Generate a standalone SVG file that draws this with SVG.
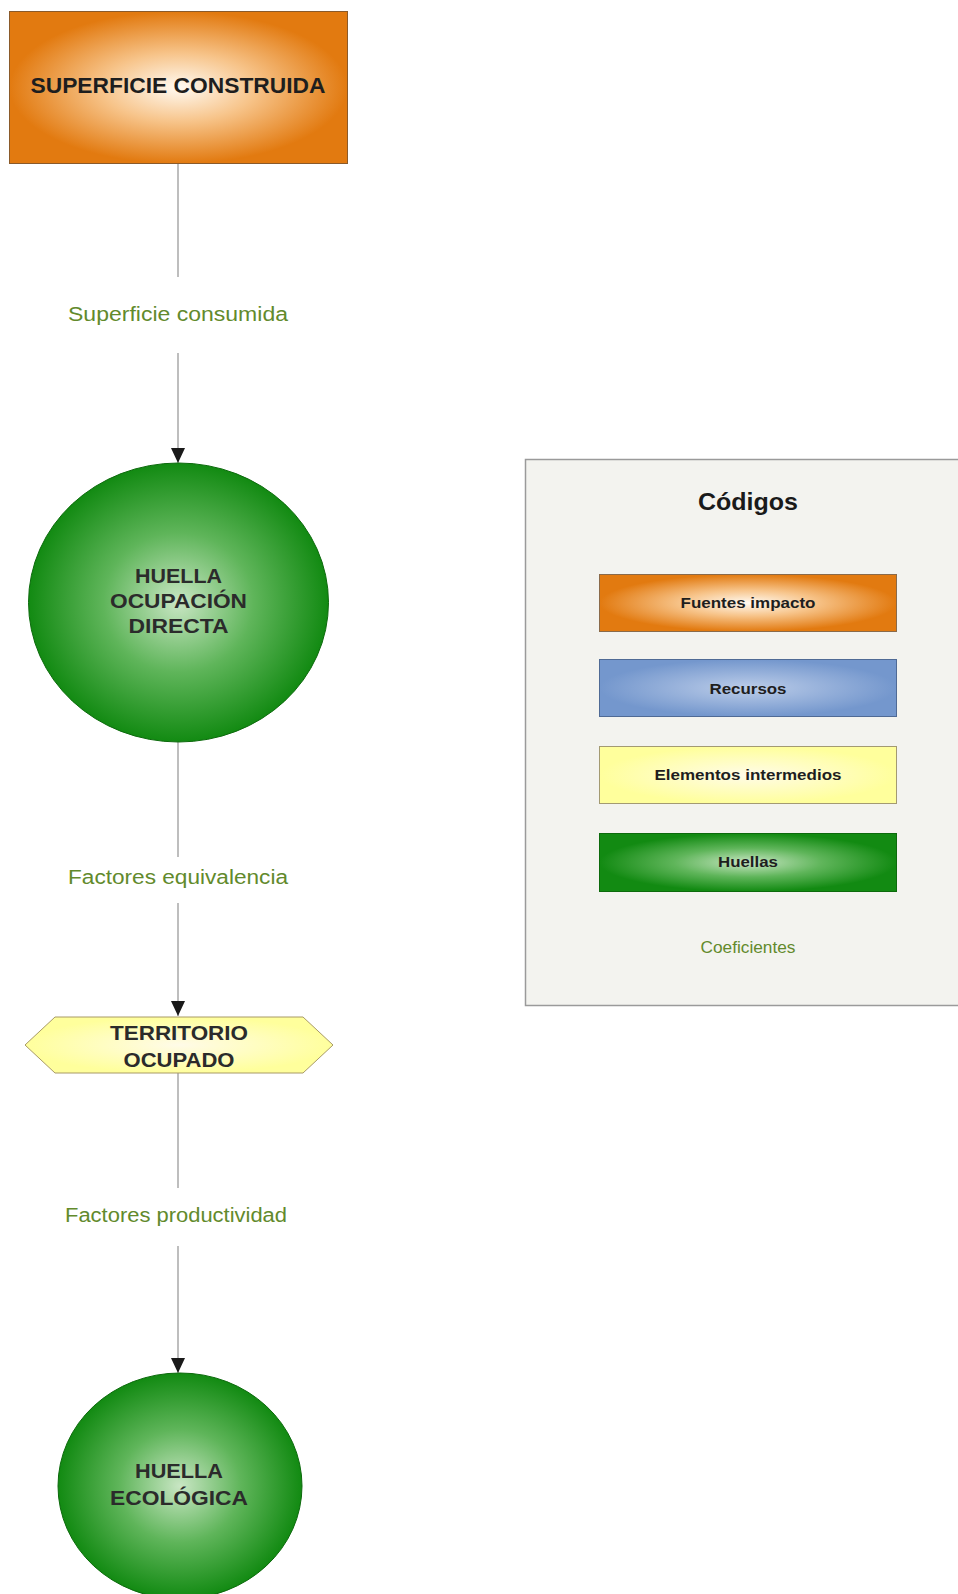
<svg xmlns="http://www.w3.org/2000/svg" width="958" height="1594" viewBox="0 0 958 1594">
<style>
.node{font-family:"Liberation Sans",Arial,sans-serif;font-weight:bold;fill:#1e1e1e;text-anchor:middle}
.ntxt{font-size:20px;fill:#2b2b2b}
.lbl{font-family:"Liberation Sans",Arial,sans-serif;font-size:20px;fill:#628a2c;text-anchor:middle}
.leg{font-family:"Liberation Sans",Arial,sans-serif;font-weight:bold;font-size:15px;fill:#1e1e1e;text-anchor:middle}
.conn line{stroke:#a8a8a8;stroke-width:1.5}
</style>
<defs>
<radialGradient id="gOrange" cx="50%" cy="50%" r="50%">
<stop offset="0" stop-color="#fffaf2"/>
<stop offset="0.45" stop-color="#f7c48a"/>
<stop offset="1" stop-color="#e27a10"/>
</radialGradient>
<radialGradient id="gGreen" cx="50%" cy="50%" r="50%">
<stop offset="0" stop-color="#c9e6c4"/>
<stop offset="0.5" stop-color="#5fb55a"/>
<stop offset="1" stop-color="#128a12"/>
</radialGradient>
<radialGradient id="gYellow" cx="50%" cy="50%" r="50%">
<stop offset="0" stop-color="#fffbe8"/>
<stop offset="1" stop-color="#ffff9c"/>
</radialGradient>
<radialGradient id="gBlue" cx="50%" cy="50%" r="50%">
<stop offset="0" stop-color="#bccde9"/>
<stop offset="1" stop-color="#7497cd"/>
</radialGradient>
<marker id="arr" markerWidth="15" markerHeight="14" refX="15" refY="7" orient="auto" markerUnits="userSpaceOnUse">
<path d="M0,0 L15,7 L0,14 Z" fill="#1a1a1a"/>
</marker>
</defs>
<rect width="958" height="1594" fill="#ffffff"/>

<g class="conn" id="connectors">
<line x1="178" y1="164" x2="178" y2="277"/>
<line x1="178" y1="353" x2="178" y2="463" marker-end="url(#arr)"/>
<line x1="178" y1="742" x2="178" y2="857"/>
<line x1="178" y1="903" x2="178" y2="1016" marker-end="url(#arr)"/>
<line x1="178" y1="1073" x2="178" y2="1188"/>
<line x1="178" y1="1246" x2="178" y2="1373" marker-end="url(#arr)"/>
<text class="lbl" x="178" y="321" textLength="220" lengthAdjust="spacingAndGlyphs">Superficie consumida</text>
<text class="lbl" x="178" y="884" textLength="220" lengthAdjust="spacingAndGlyphs">Factores equivalencia</text>
<text class="lbl" x="176" y="1222" textLength="222" lengthAdjust="spacingAndGlyphs">Factores productividad</text>
</g>

<g id="superficie-construida">
<rect x="9.5" y="11.5" width="338" height="152" fill="url(#gOrange)" stroke="#8a5a2a" stroke-width="1"/>
<text class="node" x="178" y="93" font-size="22" textLength="295" lengthAdjust="spacingAndGlyphs">SUPERFICIE CONSTRUIDA</text>
</g>

<g id="huella-ocupacion-directa">
<ellipse cx="178.5" cy="602.5" rx="150" ry="139.5" fill="url(#gGreen)" stroke="#0c6a0c" stroke-width="1"/>
<text class="node ntxt" x="178.5" y="583" textLength="87" lengthAdjust="spacingAndGlyphs">HUELLA</text>
<text class="node ntxt" x="178.5" y="608" textLength="137" lengthAdjust="spacingAndGlyphs">OCUPACIÓN</text>
<text class="node ntxt" x="178.5" y="633" textLength="100" lengthAdjust="spacingAndGlyphs">DIRECTA</text>
</g>

<g id="territorio-ocupado">
<polygon points="25,1045 55,1017 303,1017 333,1045 303,1073 55,1073" fill="url(#gYellow)" stroke="#a89a66" stroke-width="1"/>
<text class="node ntxt" x="179" y="1040" textLength="138" lengthAdjust="spacingAndGlyphs">TERRITORIO</text>
<text class="node ntxt" x="179" y="1067" textLength="111" lengthAdjust="spacingAndGlyphs">OCUPADO</text>
</g>

<g id="huella-ecologica">
<ellipse cx="180" cy="1486" rx="122" ry="113" fill="url(#gGreen)" stroke="#0c6a0c" stroke-width="1"/>
<text class="node ntxt" x="179" y="1478" textLength="88" lengthAdjust="spacingAndGlyphs">HUELLA</text>
<text class="node ntxt" x="179" y="1505" textLength="138" lengthAdjust="spacingAndGlyphs">ECOLÓGICA</text>
</g>

<g id="legend">
<rect x="525.5" y="459.5" width="440" height="546" fill="#f3f3ef" stroke="#9a9a9a" stroke-width="1.5"/>
<text x="748" y="510" font-family="'Liberation Sans',Arial,sans-serif" font-weight="bold" font-size="24" fill="#1a1a1a" text-anchor="middle" textLength="100" lengthAdjust="spacingAndGlyphs">Códigos</text>
<g id="leg-fuentes">
<rect x="599.5" y="574.5" width="297" height="57" fill="url(#gOrange)" stroke="#8a6a4a" stroke-width="1"/>
<text class="leg" x="748" y="608" textLength="135" lengthAdjust="spacingAndGlyphs">Fuentes impacto</text>
</g>
<g id="leg-recursos">
<rect x="599.5" y="659.5" width="297" height="57" fill="url(#gBlue)" stroke="#4f6a95" stroke-width="1"/>
<text class="leg" x="748" y="694" textLength="77" lengthAdjust="spacingAndGlyphs">Recursos</text>
</g>
<g id="leg-elementos">
<rect x="599.5" y="746.5" width="297" height="57" fill="url(#gYellow)" stroke="#a39a72" stroke-width="1"/>
<text class="leg" x="748" y="780" textLength="187" lengthAdjust="spacingAndGlyphs">Elementos intermedios</text>
</g>
<g id="leg-huellas">
<rect x="599.5" y="833.5" width="297" height="58" fill="url(#gGreen)" stroke="#0c6a0c" stroke-width="1"/>
<text class="leg" x="748" y="867" textLength="60" lengthAdjust="spacingAndGlyphs">Huellas</text>
</g>
<text x="748" y="953" font-family="'Liberation Sans',Arial,sans-serif" font-size="16" fill="#628a2c" text-anchor="middle" textLength="95" lengthAdjust="spacingAndGlyphs">Coeficientes</text>
</g>
</svg>
